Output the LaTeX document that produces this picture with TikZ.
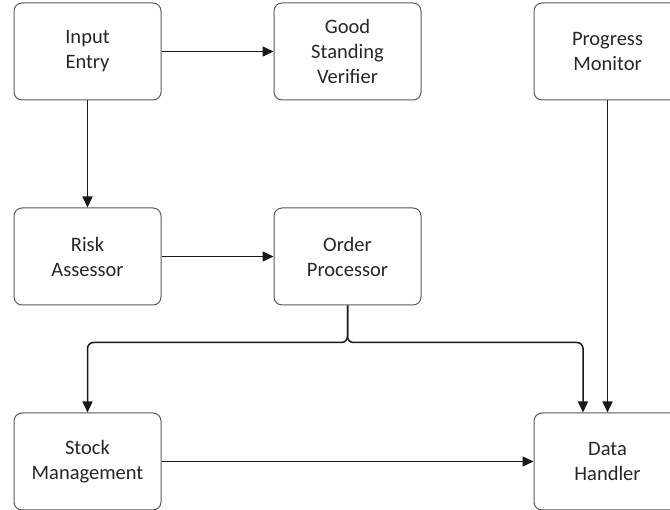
\documentclass[tikz,border=0pt]{standalone}
\usepackage{fontspec}
\setmainfont{Carlito}
\usetikzlibrary{arrows.meta}
\tikzset{
  block/.style={draw=black!65,line width=1pt,rounded corners=8pt,
    minimum width=147pt,minimum height=97pt,align=center,text=black!85,
    font=\fontsize{20.5}{25}\selectfont},
  link/.style={->,line width=1.5pt,draw=black!90}
}
\begin{document}
\begin{tikzpicture}[x=1pt,y=-1pt,>={Triangle[length=11pt,width=10pt]}]
			\clip (0,0) rectangle (670,510);
			\node[block] (input) at (87.5,51.5) {Input\\Entry};
			\node[block] (good) at (347.5,51.5) {Good\\Standing\\Verifier};
			\node[block] (progress) at (607.5,51.5) {Progress\\Monitor};
			\node[block] (risk) at (87.5,256.5) {Risk\\Assessor};
			\node[block] (order) at (347.5,256.5) {Order\\Processor};
			\node[block] (stock) at (87.5,461.5) {Stock\\Management};
			\node[block] (data) at (607.5,461.5) {Data\\Handler};
			\draw[link] (input) -- (good);
			\draw[link] (input) -- (risk);
			\draw[link] (risk) -- (order);
			\draw[link,rounded corners=6pt] (order.south) -- ++(0,37) -| (stock.north);
			\draw[link,rounded corners=6pt] (order.south) -- ++(0,37) -| ([xshift=-24.5pt]data.north);
			\draw[link] (progress) -- (data);
			\draw[link] (stock) -- (data);
		\end{tikzpicture}
\end{document}
